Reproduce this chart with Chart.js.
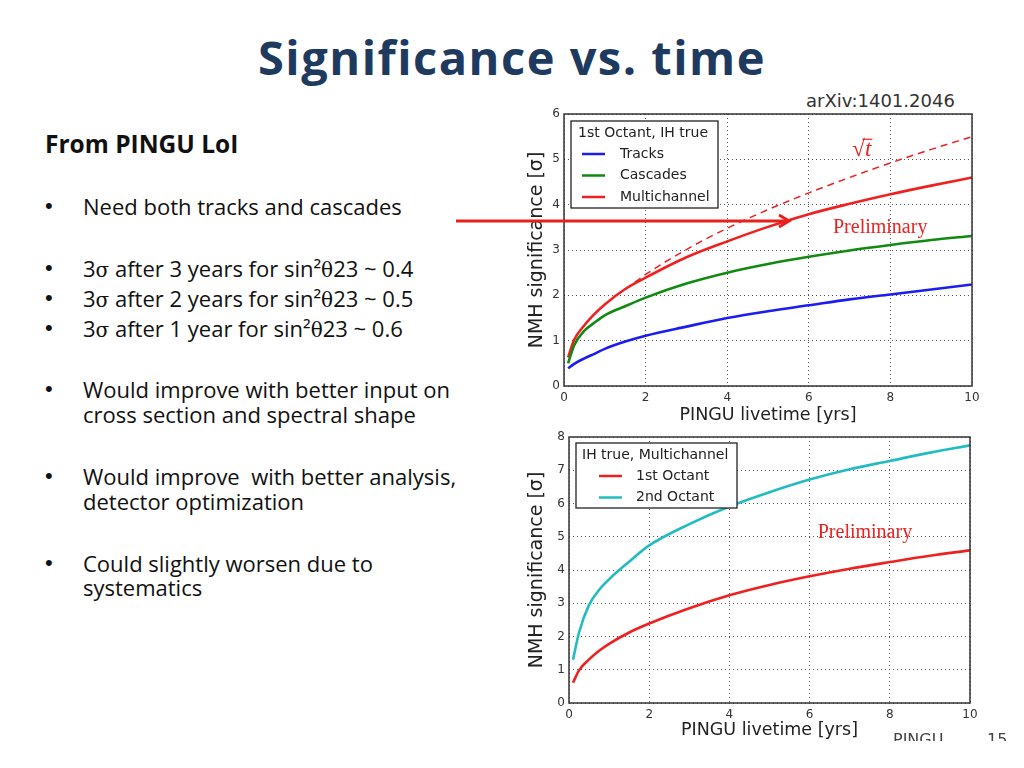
<!DOCTYPE html>
<html lang="en">
<head>
<meta charset="UTF-8" />
<title>Significance vs. time</title>
<script src="https://cdn.jsdelivr.net/npm/chart.js"></script>
<style>
  body { margin: 0; background: #fff; }
  #slide { position: relative; width: 1024px; height: 768px; overflow: hidden; background: #fff; font-family: "Open Sans", Lato, sans-serif; color: #111; }
  h1 { position: absolute; left: 0; width: 1024px; top: 29px; margin: 0; text-align: center; font: bold 47px "Open Sans", sans-serif; letter-spacing: 1.5px; line-height: 56px; color: #1f3a5f; }
  .ln { position: absolute; left: 83px; font-size: 22px; line-height: 22px; white-space: nowrap; }
  .bl { position: absolute; left: 45px; font: 22px "Liberation Sans", sans-serif; line-height: 22px; }
  .sym { font-family: "DejaVu Serif", serif; font-size: 20px; }
  .cv { position: absolute; }
</style>
</head>
<body>
<div id="slide">
  <h1>Significance vs. time</h1>

  <div class="ln" style="left:45px;top:132px;font-weight:bold;font-size:24.5px;line-height:24.5px;">From PINGU LoI</div>

  <div class="bl" style="top:195px">•</div><div class="ln" style="top:195px">Need both tracks and cascades</div>

  <div class="bl" style="top:257px">•</div><div class="ln" style="top:257px">3<span class="sym">σ</span> after 3 years for sin²<span class="sym">θ</span>23 ~ 0.4</div>
  <div class="bl" style="top:287px">•</div><div class="ln" style="top:287px">3<span class="sym">σ</span> after 2 years for sin²<span class="sym">θ</span>23 ~ 0.5</div>
  <div class="bl" style="top:317px">•</div><div class="ln" style="top:317px">3<span class="sym">σ</span> after 1 year for sin²<span class="sym">θ</span>23 ~ 0.6</div>

  <div class="bl" style="top:378px">•</div><div class="ln" style="top:378px">Would improve with better input on</div>
  <div class="ln" style="top:403px">cross section and spectral shape</div>

  <div class="bl" style="top:465px">•</div><div class="ln" style="top:465px">Would improve&nbsp; with better analysis,</div>
  <div class="ln" style="top:490px">detector optimization</div>

  <div class="bl" style="top:552px">•</div><div class="ln" style="top:552px">Could slightly worsen due to</div>
  <div class="ln" style="top:576px">systematics</div>

  <div style="position:absolute;left:806px;top:90px;font:18px 'DejaVu Sans',sans-serif;color:#333;">arXiv:1401.2046</div>

  <div class="cv" style="left:520px;top:100px;width:470px;height:330px;"><canvas id="topChart"></canvas></div>
  <div class="cv" style="left:520px;top:425px;width:470px;height:320px;"><canvas id="bottomChart"></canvas></div>

  <div style="position:absolute;left:893px;top:730px;font:16px 'DejaVu Sans',sans-serif;color:#444;">PINGU</div>
  <div style="position:absolute;left:987px;top:730px;font:16px 'DejaVu Sans',sans-serif;color:#444;">15</div>
  <div style="position:absolute;left:880px;top:741px;width:144px;height:27px;background:#fff;"></div>

  <svg style="position:absolute;left:0;top:0;" width="1024" height="768">
    <line x1="456" y1="221" x2="788" y2="221" stroke="#e8201c" stroke-width="3" />
    <polyline points="779,215 789,221 779,227" fill="none" stroke="#e8201c" stroke-width="3" />
  </svg>
</div>

<script>
// livetime in years, shared by all curves
const years = [0.1, 0.25, 0.5, 0.75, 1, 1.5, 2, 3, 4, 5, 6, 7, 8, 9, 10];

// top panel: 1st octant, IH true
const tracks = [0.39, 0.49, 0.61, 0.71, 0.82, 0.98, 1.11, 1.31, 1.50, 1.65, 1.78, 1.91, 2.02, 2.13, 2.24];
const cascades = [0.50, 0.90, 1.22, 1.40, 1.56, 1.76, 1.95, 2.26, 2.50, 2.69, 2.85, 2.99, 3.11, 3.22, 3.31];
const multichannel = [0.63, 1.02, 1.34, 1.59, 1.80, 2.14, 2.39, 2.84, 3.19, 3.51, 3.79, 4.02, 4.23, 4.42, 4.60];
const sqrtYears = [1.5, 2, 3, 4, 5, 6, 7, 8, 9, 10];
const sqrtT = [2.13, 2.46, 3.01, 3.48, 3.89, 4.26, 4.60, 4.92, 5.22, 5.50];

// bottom panel: IH true, multichannel
const octant1 = [0.61, 0.98, 1.31, 1.57, 1.78, 2.12, 2.39, 2.85, 3.24, 3.55, 3.81, 4.04, 4.24, 4.43, 4.59];
const octant2 = [1.30, 2.12, 2.95, 3.40, 3.72, 4.25, 4.74, 5.38, 5.91, 6.34, 6.72, 7.03, 7.28, 7.53, 7.75];

const xTicks = [0, 2, 4, 6, 8, 10];

const pts = (xs, ys) => xs.map((x, i) => ({ x: x, y: ys[i] }));

const RED = '#ee2020', BLUE = '#1c1cf0', GREEN = '#118a11', CYAN = '#22bcc0';

// frame, legend box and text notes drawn on top of the plot
const overlay = {
    id: 'overlay',
    afterDatasetsDraw(chart, args, opts) {
        const { ctx, chartArea: a, scales: { x, y } } = chart;
        ctx.save();
        ctx.strokeStyle = '#333';
        ctx.lineWidth = 1.5;
        ctx.strokeRect(a.left, a.top, a.width, a.height);

        (opts.notes || []).forEach(n => {
            ctx.font = n.font;
            ctx.fillStyle = n.color;
            ctx.textAlign = 'center';
            ctx.textBaseline = 'middle';
            const px = x.getPixelForValue(n.x), py = y.getPixelForValue(n.y);
            ctx.fillText(n.text, px, py);
            if (n.overline) {
                const w = ctx.measureText(n.text).width;
                ctx.strokeStyle = n.color;
                ctx.lineWidth = 1.2;
                ctx.beginPath();
                ctx.moveTo(px - w / 2 + 10, py - 11);
                ctx.lineTo(px + w / 2 + 1, py - 11);
                ctx.stroke();
            }
        });

        const lg = opts.legend;
        const bx = a.left + lg.dx, by = a.top + lg.dy;
        ctx.fillStyle = '#fff';
        ctx.fillRect(bx, by, lg.w, lg.h);
        ctx.strokeStyle = '#222';
        ctx.lineWidth = 1.3;
        ctx.strokeRect(bx, by, lg.w, lg.h);
        ctx.font = '14px "DejaVu Sans", sans-serif';
        ctx.fillStyle = '#222';
        ctx.textAlign = 'left';
        ctx.textBaseline = 'middle';
        ctx.fillText(lg.title, bx + lg.titleX, by + 12);
        chart.data.datasets.filter(d => !d.noLegend).forEach((d, i) => {
            const ly = by + 33 + i * 21.5;
            ctx.strokeStyle = d.borderColor;
            ctx.lineWidth = 2.5;
            ctx.beginPath();
            ctx.moveTo(bx + lg.lineX, ly);
            ctx.lineTo(bx + lg.lineX + 23, ly);
            ctx.stroke();
            ctx.fillStyle = '#222';
            ctx.fillText(d.label, bx + lg.textX, ly);
        });
        ctx.restore();
    }
};

function axes(yMax, yWidth, xHeight) {
    const tickFont = { family: 'DejaVu Sans', size: 12 };
    return {
        x: {
            type: 'linear', min: 0, max: 10,
            afterBuildTicks: s => { s.ticks = xTicks.map(v => ({ value: v })); },
            afterFit: s => { s.height = xHeight; },
            grid: { color: '#555', drawTicks: false },
            border: { display: false, dash: [1, 3] },
            ticks: { color: '#333', font: tickFont, padding: 5 },
            title: { display: true, text: 'PINGU livetime [yrs]', color: '#222', font: { family: 'DejaVu Sans', size: 17.5 }, padding: { top: 0 } }
        },
        y: {
            type: 'linear', min: 0, max: yMax,
            ticks: { stepSize: 1, color: '#333', font: tickFont, padding: 4 },
            afterFit: s => { s.width = yWidth; },
            grid: { color: '#555', drawTicks: false },
            border: { display: false, dash: [1, 3] },
            title: { display: true, text: 'NMH significance [σ]', color: '#222', font: { family: 'DejaVu Sans', size: 19 }, padding: { top: 6, bottom: 0 } }
        }
    };
}

const lineStyle = { borderWidth: 2.6, pointRadius: 0, fill: false, cubicInterpolationMode: 'monotone' };

new Chart(document.getElementById('topChart'), {
    type: 'line',
    data: {
        datasets: [
            { label: 'Tracks', data: pts(years, tracks), borderColor: BLUE, ...lineStyle },
            { label: 'Cascades', data: pts(years, cascades), borderColor: GREEN, ...lineStyle },
            { label: 'Multichannel', data: pts(years, multichannel), borderColor: RED, ...lineStyle },
            { label: 'sqrt t', data: pts(sqrtYears, sqrtT), borderColor: RED, ...lineStyle, borderWidth: 1.5, borderDash: [7, 5], noLegend: true }
        ]
    },
    options: {
        responsive: true,
        maintainAspectRatio: false,
        animation: false,
        layout: { padding: { top: 14, right: 18, left: 0, bottom: 0 } },
        scales: axes(6, 44, 44),
        plugins: {
            legend: { display: false },
            tooltip: { enabled: false },
            overlay: {
                legend: { title: '1st Octant, IH true', dx: 7, dy: 7, w: 147, h: 87, titleX: 7, lineX: 11, textX: 49 },
                notes: [
                    { text: 'Preliminary', x: 7.75, y: 3.49, font: '20px "Liberation Serif", serif', color: RED },
                    { text: '√t', x: 7.3, y: 5.2, font: 'italic 23px "Liberation Serif", serif', color: RED, overline: true }
                ]
            }
        }
    },
    plugins: [overlay]
});

new Chart(document.getElementById('bottomChart'), {
    type: 'line',
    data: {
        datasets: [
            { label: '1st Octant', data: pts(years, octant1), borderColor: RED, ...lineStyle },
            { label: '2nd Octant', data: pts(years, octant2), borderColor: CYAN, ...lineStyle }
        ]
    },
    options: {
        responsive: true,
        maintainAspectRatio: false,
        animation: false,
        layout: { padding: { top: 12, right: 20, left: 0, bottom: 0 } },
        scales: axes(8, 49, 42),
        plugins: {
            legend: { display: false },
            tooltip: { enabled: false },
            overlay: {
                legend: { title: 'IH true, Multichannel', dx: 7, dy: 6, w: 161, h: 65, titleX: 6, lineX: 23, textX: 60 },
                notes: [
                    { text: 'Preliminary', x: 7.38, y: 5.11, font: '20px "Liberation Serif", serif', color: RED }
                ]
            }
        }
    },
    plugins: [overlay]
});
</script>
</body>
</html>
